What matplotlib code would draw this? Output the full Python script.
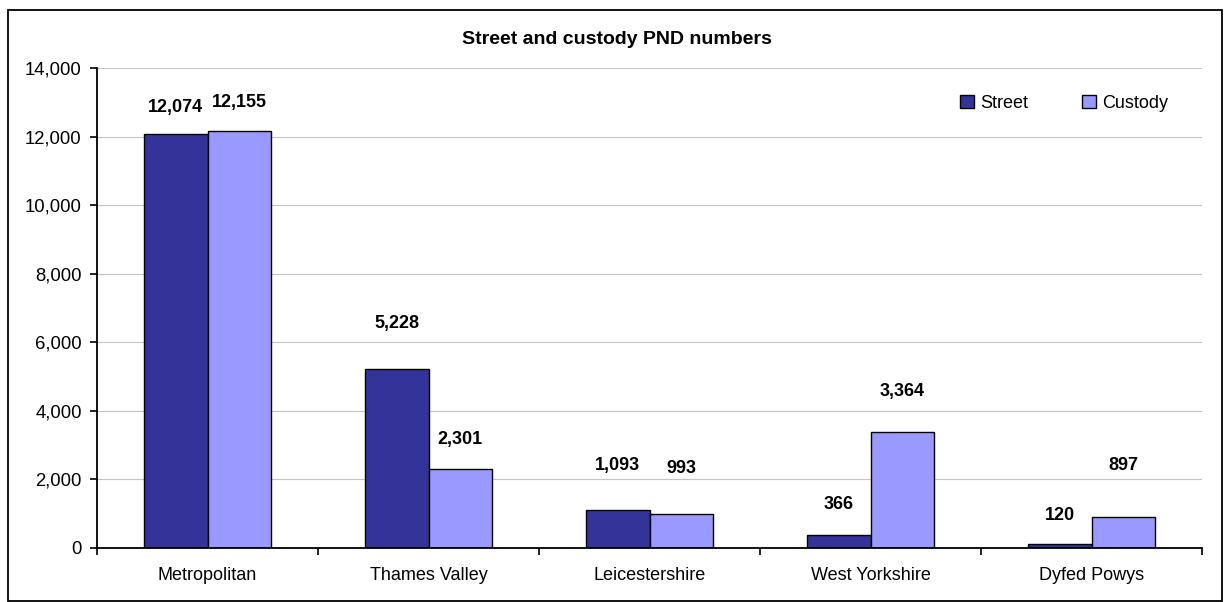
import matplotlib
matplotlib.use("Agg")
import matplotlib.pyplot as plt
from matplotlib.patches import Rectangle, Patch
import numpy as np

categories = ["Metropolitan", "Thames Valley", "Leicestershire", "West Yorkshire", "Dyfed Powys"]
street = [12074, 5228, 1093, 366, 120]
custody = [12155, 2301, 993, 3364, 897]
yticks = [0, 2000, 4000, 6000, 8000, 10000, 12000, 14000]
title = "Street and custody PND numbers"

# label offsets above bar tops (pixels), style only
street_label_offset = [26, 45, 45, 31, 28]
custody_label_offset = [29, 29, 45, 41, 51]

plt.rcParams['font.family'] = ['Liberation Sans', 'DejaVu Sans']

W, H = 1229, 602
fig = plt.figure(figsize=(W / 100, H / 100), dpi=100)
ax = fig.add_axes([97 / W, 1 - 547.7 / H, (1202 - 97) / W, (547.7 - 68) / H])

x = np.arange(len(categories))
bw = 0.2865
c_street = "#333399"
c_custody = "#9999FF"
ax.bar(x - bw / 2, street, bw, color=c_street, edgecolor="black", linewidth=1.0, zorder=3, label="Street")
ax.bar(x + bw / 2, custody, bw, color=c_custody, edgecolor="black", linewidth=1.0, zorder=3, label="Custody")

for xi, v, off in zip(x - bw / 2, street, street_label_offset):
    ax.annotate(f"{v:,}", (xi, v), xytext=(0, off), textcoords="offset pixels",
                ha="center", va="center", fontsize=13, fontweight="bold")
for xi, v, off in zip(x + bw / 2, custody, custody_label_offset):
    ax.annotate(f"{v:,}", (xi, v), xytext=(0, off), textcoords="offset pixels",
                ha="center", va="center", fontsize=13, fontweight="bold")

ax.set_xlim(-0.5, len(categories) - 0.5)
ax.set_ylim(0, 14000)
ax.set_yticks(yticks)
ax.set_yticklabels([f"{t:,}" for t in yticks], fontsize=13.3)
ax.set_xticks(x)
ax.set_xticklabels(categories, fontsize=13)
ax.set_xticks(np.arange(len(categories) + 1) - 0.5, minor=True)
ax.tick_params(axis="x", which="major", length=0, pad=14)
ax.tick_params(axis="x", which="minor", length=5, width=1.2, direction="out")
ax.tick_params(axis="y", which="major", length=5, width=1.2, direction="out", pad=6)

ax.grid(axis="y", color="#c4c4c4", linewidth=0.8, zorder=0)
ax.set_axisbelow(True)
for s in ["top", "right"]:
    ax.spines[s].set_visible(False)
for s in ["left", "bottom"]:
    ax.spines[s].set_linewidth(1.3)
    ax.spines[s].set_zorder(4)

fig.text(617 / W, 1 - 40 / H, title, ha="center", va="center", fontsize=14, fontweight="bold")

handles = [Patch(facecolor=c_street, edgecolor="black", linewidth=1.0),
           Patch(facecolor=c_custody, edgecolor="black", linewidth=1.0)]
ax.legend(handles, ["Street", "Custody"], ncol=2, loc="center",
          bbox_to_anchor=(1064 / W, 1 - 103 / H), bbox_transform=fig.transFigure,
          frameon=False, handlelength=0.75, handleheight=0.75, handletextpad=0.35,
          columnspacing=3.0, fontsize=13)

fig.add_artist(Rectangle((7.5 / W, 1 - 600.5 / H), (1221.5 - 7.5) / W, (600.5 - 9.5) / H,
                         transform=fig.transFigure, fill=False, edgecolor="black", linewidth=1.3))

fig.savefig("out.png", dpi=100)
